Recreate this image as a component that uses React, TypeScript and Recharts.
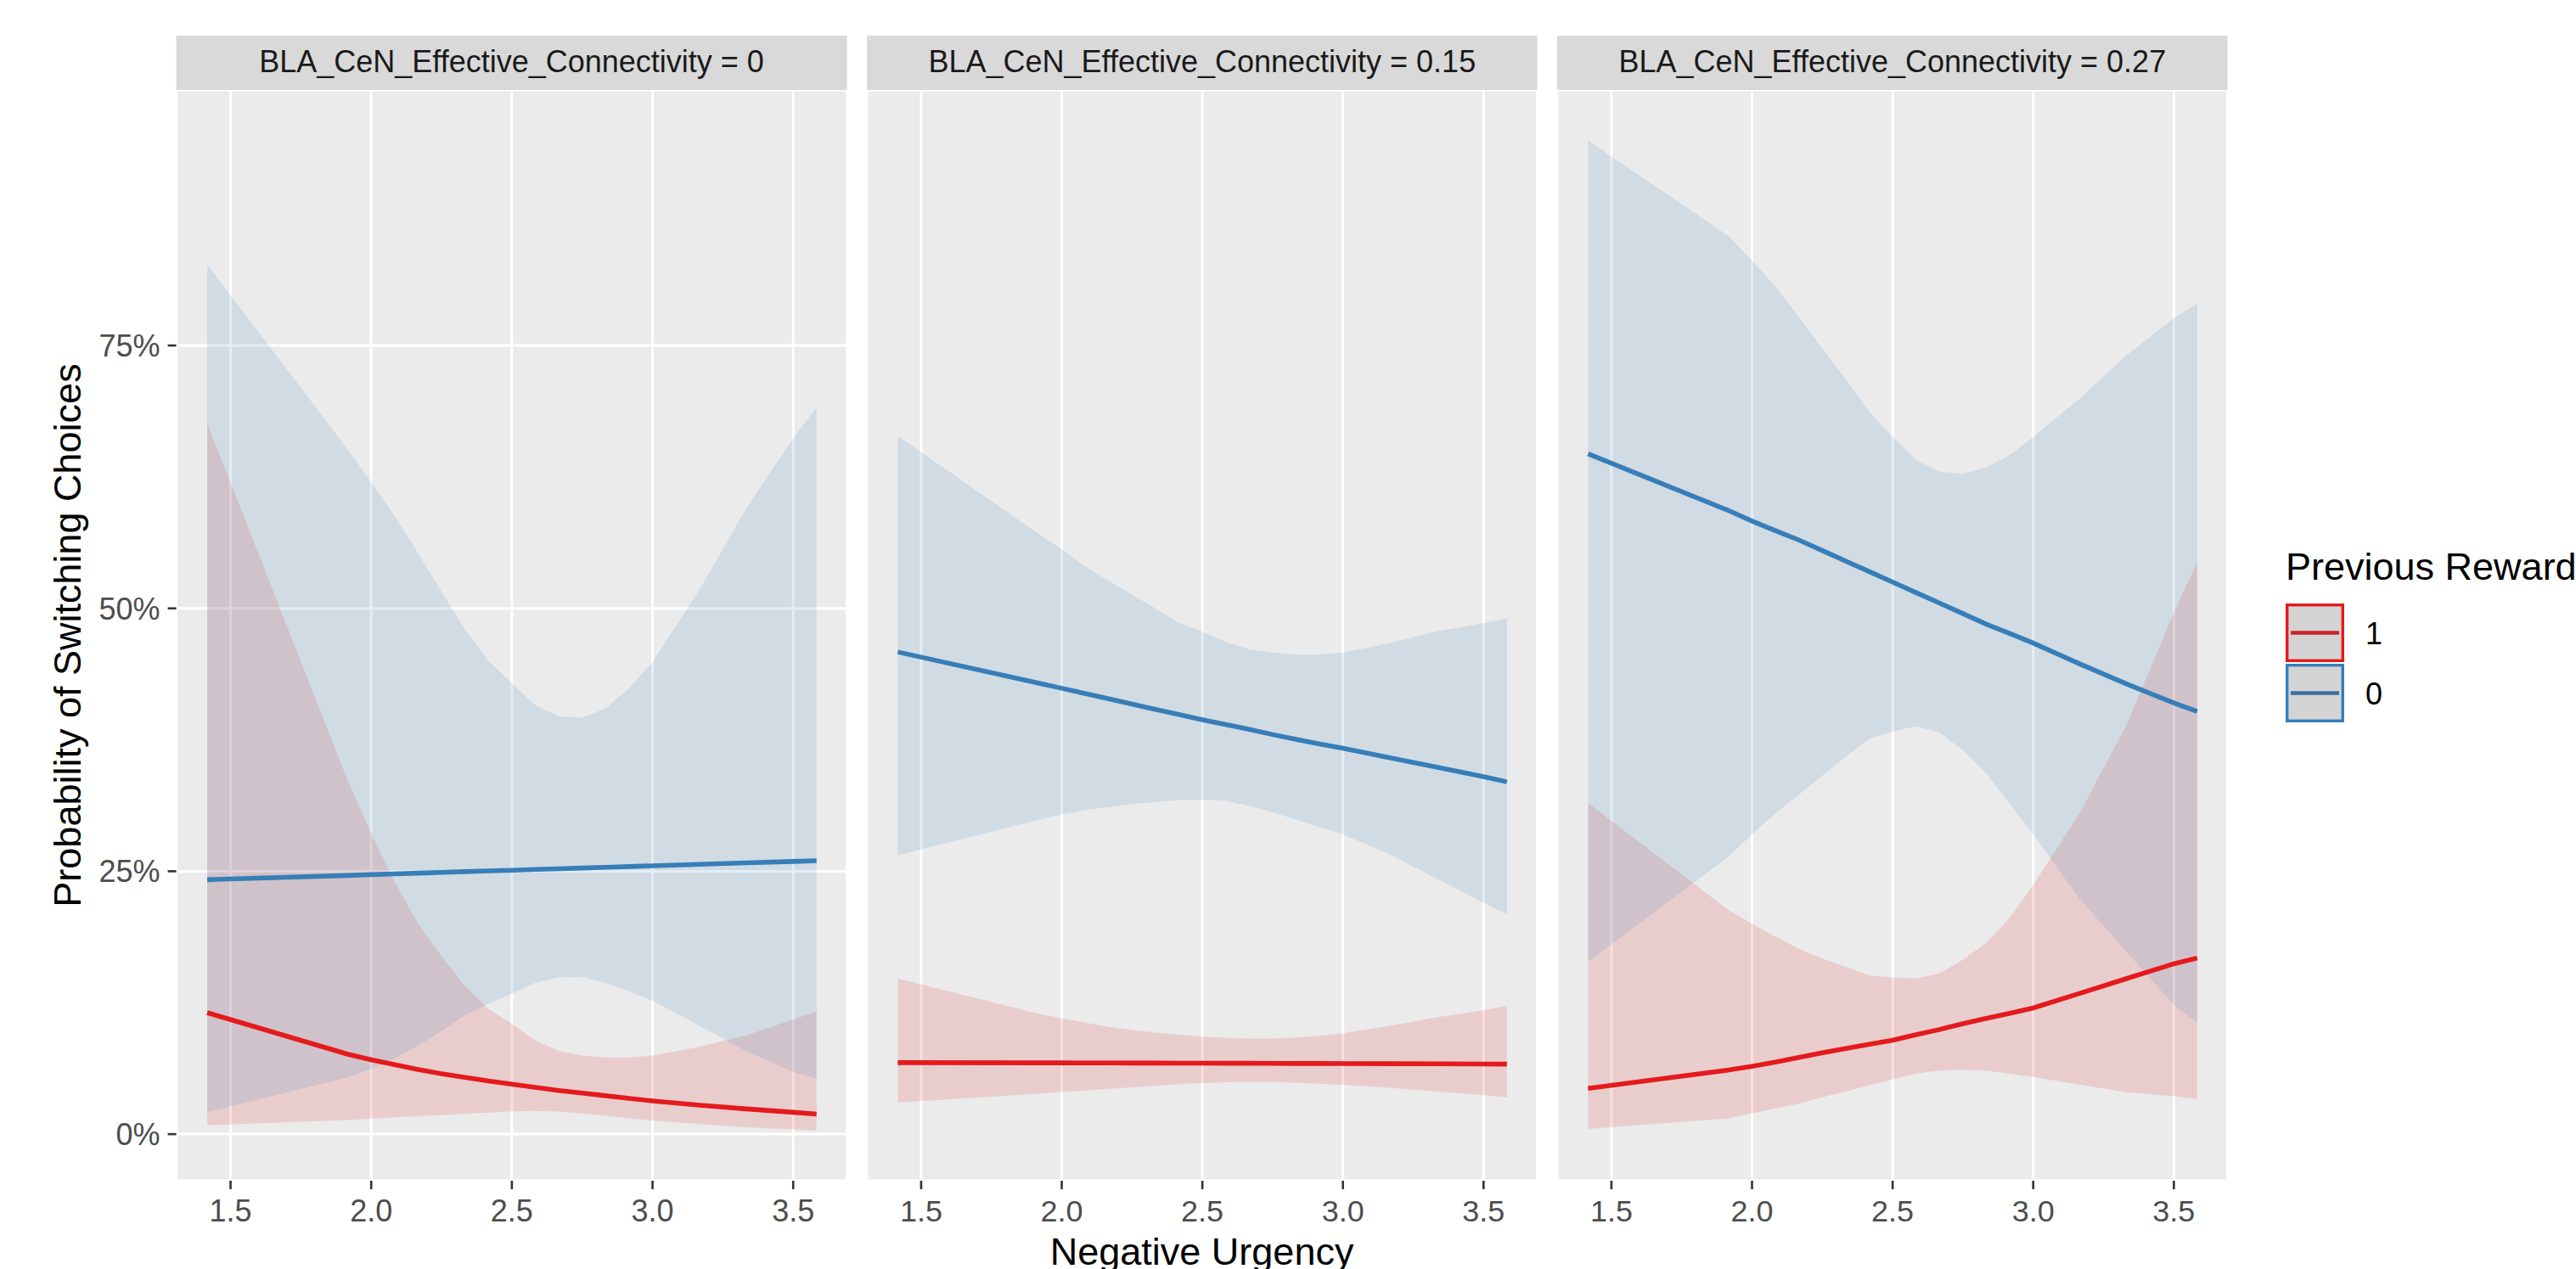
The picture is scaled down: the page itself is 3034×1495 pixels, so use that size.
import { ComposedChart, Line, Area, XAxis, YAxis, CartesianGrid } from "recharts";

const FONT = "'Liberation Sans', Arial, Helvetica, sans-serif";
const RED = "#E41A1C";
const BLUE = "#377EB8";

// x grid of the model predictions (Negative Urgency)
const NEG_URGENCY = [1.417, 1.917, 2.0, 2.083, 2.167, 2.25, 2.333, 2.417, 2.5, 2.583, 2.667, 2.75, 2.833, 2.917, 3.0, 3.167, 3.333, 3.5, 3.583];
const FACETS = [
  "BLA_CeN_Effective_Connectivity = 0",
  "BLA_CeN_Effective_Connectivity = 0.15",
  "BLA_CeN_Effective_Connectivity = 0.27",
];
const X_TICKS = [1.5, 2.0, 2.5, 3.0, 3.5];
const Y_TICKS = [0, 25, 50, 75];

// connectivity = 0 (values in %)
const c0Rew1 = [11.55, 7.6, 7.07, 6.6, 6.15, 5.75, 5.4, 5.05, 4.76, 4.45, 4.15, 3.9, 3.65, 3.4, 3.16, 2.75, 2.4, 2.08, 1.9];
const c0Rew1Lo = [0.85, 1.35, 1.46, 1.6, 1.7, 1.8, 1.95, 2.05, 2.14, 2.2, 2.15, 1.97, 1.75, 1.5, 1.29, 0.95, 0.65, 0.45, 0.34];
const c0Rew1Hi = [67.6, 33.6, 28.6, 24.0, 20.0, 16.9, 14.1, 11.9, 10.5, 8.93, 7.9, 7.47, 7.3, 7.3, 7.47, 8.3, 9.4, 10.9, 11.65];
const c0Rew0 = [24.2, 24.6, 24.68, 24.75, 24.82, 24.89, 24.96, 25.03, 25.1, 25.17, 25.24, 25.31, 25.38, 25.45, 25.52, 25.66, 25.8, 25.93, 26.0];
const c0Rew0Lo = [2.1, 5.4, 6.2, 7.2, 8.4, 9.8, 11.3, 12.4, 13.35, 14.4, 14.9, 14.95, 14.4, 13.6, 12.7, 10.3, 7.9, 5.9, 5.3];
const c0Rew0Hi = [82.7, 65.1, 62.0, 58.8, 55.2, 51.6, 48.0, 45.0, 42.9, 40.8, 39.7, 39.6, 40.5, 42.4, 44.9, 51.8, 59.5, 66.2, 69.1];

// connectivity = 0.15
const c15Rew1 = [6.8, 6.78, 6.78, 6.77, 6.77, 6.76, 6.76, 6.75, 6.75, 6.74, 6.74, 6.73, 6.72, 6.72, 6.71, 6.7, 6.69, 6.67, 6.66];
const c15Rew1Lo = [3.0, 3.85, 4.0, 4.15, 4.3, 4.45, 4.6, 4.75, 4.86, 4.93, 4.96, 4.95, 4.9, 4.8, 4.7, 4.4, 4.05, 3.7, 3.5];
const c15Rew1Hi = [14.8, 11.45, 11.0, 10.6, 10.2, 9.9, 9.65, 9.45, 9.27, 9.15, 9.1, 9.1, 9.2, 9.35, 9.6, 10.3, 11.1, 11.8, 12.2];
const c15Rew0 = [45.85, 42.9, 42.4, 41.9, 41.4, 40.9, 40.4, 39.9, 39.4, 38.95, 38.5, 38.0, 37.55, 37.1, 36.7, 35.8, 34.9, 34.0, 33.5];
const c15Rew0Lo = [26.5, 29.9, 30.4, 30.8, 31.1, 31.4, 31.6, 31.75, 31.8, 31.7, 31.2, 30.6, 29.9, 29.2, 28.5, 26.6, 24.3, 22.0, 20.9];
const c15Rew0Hi = [66.4, 57.1, 55.6, 54.0, 52.6, 51.3, 50.0, 48.6, 47.8, 46.8, 46.1, 45.8, 45.6, 45.6, 45.8, 46.7, 47.8, 48.6, 49.0];

// connectivity = 0.27
const c27Rew1 = [4.35, 6.1, 6.45, 6.85, 7.3, 7.74, 8.15, 8.55, 8.93, 9.45, 9.95, 10.5, 11.0, 11.5, 12.0, 13.4, 14.8, 16.2, 16.75];
const c27Rew1Lo = [0.5, 1.5, 1.97, 2.45, 2.9, 3.5, 4.05, 4.65, 5.2, 5.77, 6.05, 6.1, 6.05, 5.75, 5.43, 4.7, 3.98, 3.6, 3.33];
const c27Rew1Hi = [31.5, 21.3, 20.0, 18.8, 17.6, 16.7, 15.9, 15.1, 14.9, 14.8, 15.3, 16.6, 18.2, 20.6, 23.7, 30.6, 39.0, 49.6, 54.4];
const c27Rew0 = [64.7, 59.3, 58.3, 57.4, 56.5, 55.5, 54.5, 53.5, 52.5, 51.5, 50.5, 49.5, 48.5, 47.6, 46.7, 44.7, 42.8, 41.0, 40.2];
const c27Rew0Lo = [16.4, 26.4, 28.5, 30.5, 32.3, 34.1, 35.9, 37.6, 38.3, 38.8, 38.2, 36.5, 34.3, 31.4, 28.5, 22.3, 17.3, 12.3, 10.6];
const c27Rew0Hi = [94.5, 85.4, 83.1, 80.6, 77.7, 74.7, 71.8, 68.7, 66.3, 64.1, 63.0, 62.8, 63.4, 64.6, 66.3, 70.0, 74.1, 77.6, 79.0];

function buildRows(f1: number[], lo1: number[], hi1: number[], f0: number[], lo0: number[], hi0: number[]) {
  return NEG_URGENCY.map((x, i) => ({
    x,
    fit1: f1[i],
    band1: [lo1[i], hi1[i]],
    fit0: f0[i],
    band0: [lo0[i], hi0[i]],
  }));
}

const PANEL_DATA = [
  buildRows(c0Rew1, c0Rew1Lo, c0Rew1Hi, c0Rew0, c0Rew0Lo, c0Rew0Hi),
  buildRows(c15Rew1, c15Rew1Lo, c15Rew1Hi, c15Rew0, c15Rew0Lo, c15Rew0Hi),
  buildRows(c27Rew1, c27Rew1Lo, c27Rew1Hi, c27Rew0, c27Rew0Lo, c27Rew0Hi),
];

const W = 3034;
const H = 1495;
const PANELS = [
  { left: 207.6, right: 997.5 },
  { left: 1021, right: 1810.6 },
  { left: 1834, right: 2623.6 },
];
const PLOT_TOP = 106;
const PLOT_BOTTOM = 1391;

function Facet({ idx }: { idx: number }) {
  const p = PANELS[idx];
  const first = idx === 0;
  const wrapLeft = first ? 0 : p.left;
  const width = p.right - wrapLeft;
  return (
    <div style={{ position: "absolute", left: wrapLeft, top: 0 }}>
      <ComposedChart
        width={width}
        height={H}
        data={PANEL_DATA[idx]}
        margin={{ top: PLOT_TOP, right: 0, bottom: 0, left: 0 }}
      >
        <CartesianGrid fill="#EBEBEB" stroke="#FFFFFF" strokeWidth={3} />
        <XAxis
          dataKey="x"
          type="number"
          domain={[1.307, 3.691]}
          ticks={X_TICKS}
          allowDataOverflow
          height={H - PLOT_BOTTOM}
          tickFormatter={(v: number) => v.toFixed(1)}
          tick={{ fontSize: 36, fill: "#4D4D4D", fontFamily: FONT }}
          tickSize={10}
          tickMargin={12}
          tickLine={{ stroke: "#333333", strokeWidth: 2.6 }}
          axisLine={false}
        />
        <YAxis
          type="number"
          domain={[-4.43, 99.3]}
          ticks={Y_TICKS}
          allowDataOverflow
          width={first ? p.left : 0}
          tickFormatter={(v: number) => `${v}%`}
          tick={first ? { fontSize: 36, fill: "#4D4D4D", fontFamily: FONT } : false}
          tickSize={10}
          tickMargin={9}
          tickLine={first ? { stroke: "#333333", strokeWidth: 2.6 } : false}
          axisLine={false}
        />
        <Line dataKey="fit1" type="linear" stroke={RED} strokeWidth={5.6} dot={false} activeDot={false} isAnimationActive={false} />
        <Line dataKey="fit0" type="linear" stroke={BLUE} strokeWidth={5.6} dot={false} activeDot={false} isAnimationActive={false} />
        <Area dataKey="band1" type="linear" stroke="none" fill={RED} fillOpacity={0.14} dot={false} activeDot={false} isAnimationActive={false} />
        <Area dataKey="band0" type="linear" stroke="none" fill={BLUE} fillOpacity={0.14} dot={false} activeDot={false} isAnimationActive={false} />
      </ComposedChart>
    </div>
  );
}

export default function App() {
  return (
    <div style={{ position: "absolute", left: 0, top: 0, width: W, height: H, background: "#FFFFFF", fontFamily: FONT }}>
      {PANELS.map((_, i) => (
        <Facet key={i} idx={i} />
      ))}
      <svg width={W} height={H} style={{ position: "absolute", left: 0, top: 0, pointerEvents: "none" }} fontFamily={FONT}>
        {PANELS.map((p, i) => (
          <g key={i}>
            <rect x={p.left} y={42} width={p.right - p.left} height={PLOT_TOP - 42} fill="#D9D9D9" />
            <text x={(p.left + p.right) / 2} y={85} textAnchor="middle" fontSize={36} fill="#1A1A1A">
              {FACETS[i]}
            </text>
          </g>
        ))}
        <text
          x={95}
          y={(PLOT_TOP + PLOT_BOTTOM) / 2}
          transform={`rotate(-90, 95, ${(PLOT_TOP + PLOT_BOTTOM) / 2})`}
          textAnchor="middle"
          fontSize={45}
          fill="#000000"
        >
          Probability of Switching Choices
        </text>
        <text x={(PANELS[0].left + PANELS[2].right) / 2} y={1490} textAnchor="middle" fontSize={45} fill="#000000">
          Negative Urgency
        </text>

        {/* legend */}
        <text x={2692} y={683} fontSize={45} fill="#000000">Previous Reward</text>
        <rect x={2693.7} y={712.7} width={65.6} height={65.6} fill="#D4D4D4" stroke={RED} strokeWidth={3.4} />
        <line x1={2698} x2={2755} y1={745.5} y2={745.5} stroke="#C9242A" strokeWidth={4.5} />
        <text x={2786} y={759} fontSize={36} fill="#000000">1</text>
        <rect x={2693.7} y={783.7} width={65.6} height={65.6} fill="#D4D4D4" stroke={BLUE} strokeWidth={3.4} />
        <line x1={2698} x2={2755} y1={816.5} y2={816.5} stroke="#3A6F9F" strokeWidth={4.5} />
        <text x={2786} y={830} fontSize={36} fill="#000000">0</text>
      </svg>
    </div>
  );
}
